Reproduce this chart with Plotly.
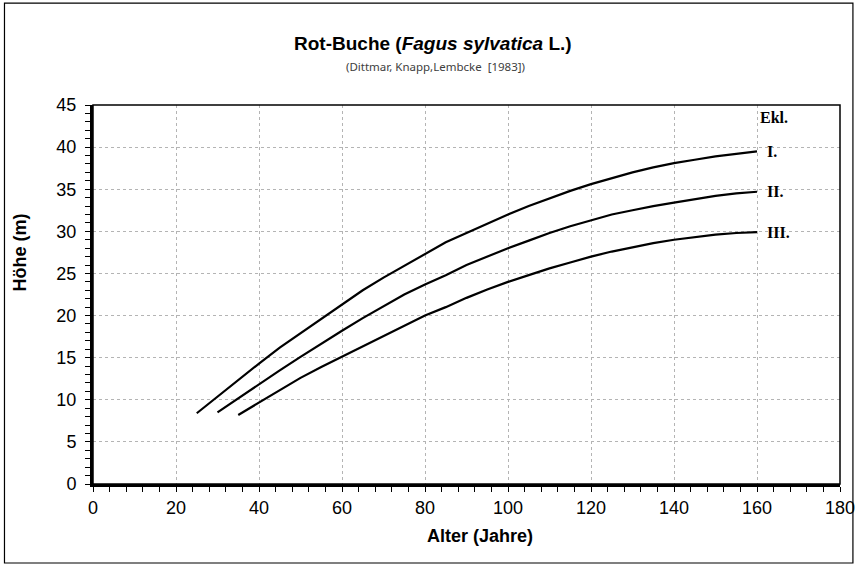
import plotly.graph_objects as go

# Ertragstafel Rot-Buche, Oberhoehe je Ertragsklasse
alter_I = [25, 30, 35, 40, 45, 50, 55, 60, 65, 70, 75, 80, 85, 90, 95, 100,
           105, 110, 115, 120, 125, 130, 135, 140, 145, 150, 155, 160]
hoehe_I = [8.4, 10.4, 12.4, 14.3, 16.2, 17.9, 19.6, 21.3, 23.0, 24.5, 25.9, 27.3, 28.7, 29.8,
           30.9, 32.0, 33.0, 33.9, 34.8, 35.6, 36.3, 37.0, 37.6, 38.1, 38.5, 38.9, 39.2, 39.5]

alter_II = [30, 35, 40, 45, 50, 55, 60, 65, 70, 75, 80, 85, 90, 95, 100,
            105, 110, 115, 120, 125, 130, 135, 140, 145, 150, 155, 160]
hoehe_II = [8.5, 10.2, 11.9, 13.5, 15.1, 16.7, 18.2, 19.7, 21.1, 22.5, 23.7, 24.8, 26.0, 27.0,
            28.0, 28.9, 29.8, 30.6, 31.3, 32.0, 32.5, 33.0, 33.4, 33.8, 34.2, 34.5, 34.7]

alter_III = [35, 40, 45, 50, 55, 60, 65, 70, 75, 80, 85, 90, 95, 100,
             105, 110, 115, 120, 125, 130, 135, 140, 145, 150, 155, 160]
hoehe_III = [8.2, 9.7, 11.2, 12.6, 13.9, 15.1, 16.4, 17.6, 18.8, 20.0, 21.0, 22.1, 23.1, 24.0,
             24.8, 25.6, 26.3, 27.0, 27.6, 28.1, 28.6, 29.0, 29.3, 29.6, 29.8, 29.9]

klassen = [("I.", alter_I, hoehe_I), ("II.", alter_II, hoehe_II), ("III.", alter_III, hoehe_III)]

sans = "Liberation Sans, Arial, sans-serif"
serif = "Liberation Serif, Times New Roman, serif"

fig = go.Figure()
for name, x, y in klassen:
    fig.add_trace(go.Scatter(x=x, y=y, mode="lines", name=name,
                             line=dict(color="black", width=2.2), showlegend=False))
    # label at the end of each curve
    fig.add_annotation(x=x[-1], y=y[-1], text="<b>" + name + "</b>", showarrow=False,
                       xanchor="left", yanchor="middle", xshift=8,
                       font=dict(family=serif, size=16, color="black"))

fig.add_annotation(x=160, y=43.5, text="<b>Ekl.</b>", showarrow=False, xanchor="left",
                   yanchor="middle", xshift=1, font=dict(family=serif, size=16, color="black"))


def paper_text(x, y, text, font, **kw):
    # annotation centred on a point given in paper coordinates
    fig.add_annotation(x=x, y=y, xref="paper", yref="paper", showarrow=False, text=text,
                       xanchor="center", yanchor="middle", font=font, **kw)


paper_text(0.4548, 1.1623, "<b>Rot-Buche (<i>Fagus sylvatica</i> L.)</b>",
           dict(family=sans, size=19, color="black"))
paper_text(0.4588, 1.1003, "(Dittmar, Knapp,Lembcke  [1983])",
           dict(family="Noto Sans, sans-serif", size=11.5, color="#404040"))
paper_text(0.5186, -0.1372, "<b>Alter (Jahre)</b>", dict(family=sans, size=18, color="black"))
paper_text(-0.0971, 0.612, "<b>Höhe (m)</b>", dict(family=sans, size=18, color="black"),
           textangle=-90)

# thin frame round plot area and the outer chart border
fig.add_shape(type="rect", xref="paper", yref="paper", x0=0, x1=1, y0=0, y1=1,
              line=dict(color="black", width=1.5), layer="above")
fig.add_shape(type="rect", xref="paper", yref="paper", x0=-0.1185, x1=1.0173,
              y0=-0.2084, y1=1.269, line=dict(color="black", width=1.2))

axis_common = dict(
    showline=True, linecolor="black", linewidth=3,
    ticks="outside", ticklen=5, tickwidth=1, tickcolor="black",
    showgrid=True, gridcolor="#b4b4b4", gridwidth=1, griddash="dot",
    zeroline=False, tickfont=dict(family=sans, size=18, color="black"),
)

fig.update_xaxes(range=[0, 180], dtick=20, tick0=0,
                 minor=dict(dtick=4, ticks="outside", ticklen=5, tickcolor="black", showgrid=False),
                 **axis_common)
fig.update_yaxes(range=[0, 45], dtick=5, tick0=0, ticklabelstandoff=5,
                 minor=dict(dtick=1, ticks="outside", ticklen=5, tickcolor="black", showgrid=False),
                 **axis_common)

fig.update_layout(
    width=867, height=570,
    margin=dict(l=93, r=22, t=105, b=86),
    paper_bgcolor="white", plot_bgcolor="white",
    showlegend=False,
)

# no page margin round the chart, no modebar
fig.write_html("out.html", config={"displayModeBar": False},
               post_script="document.body.style.margin='0';document.body.style.overflow='hidden';")
